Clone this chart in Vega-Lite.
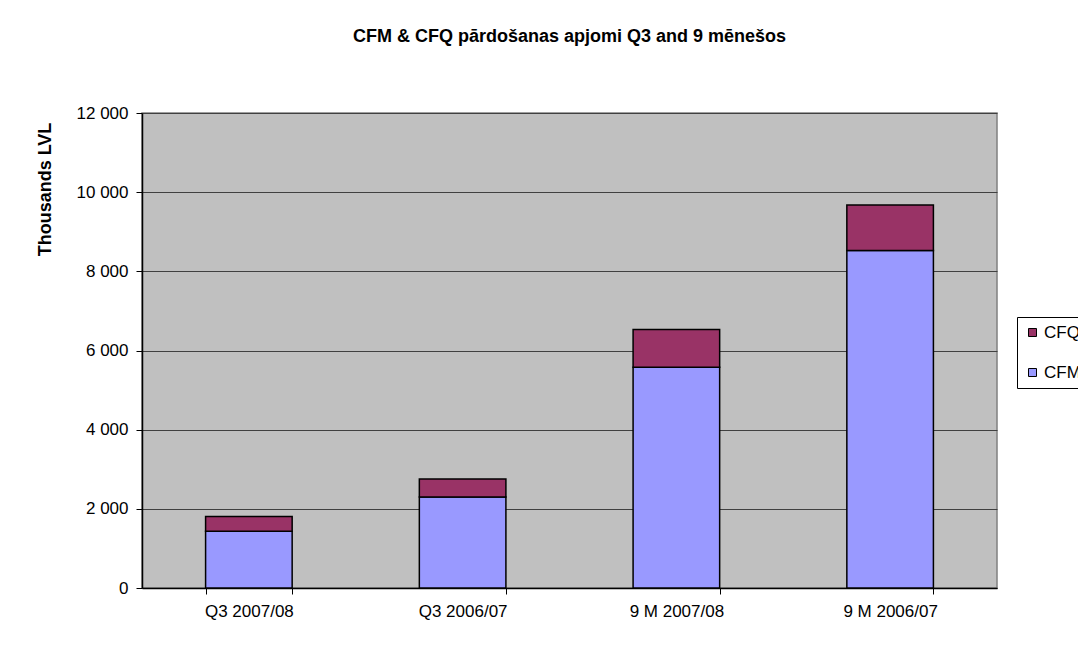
{
  "$schema": "https://vega.github.io/schema/vega-lite/v6.json",
  "width": 855,
  "height": 475,
  "autosize": "none",
  "padding": {"left": 142, "top": 113, "right": 81, "bottom": 58},
  "background": "white",
  "title": {
    "text": "CFM & CFQ pārdošanas apjomi Q3 and 9 mēnešos",
    "font": "Liberation Sans",
    "fontSize": 18,
    "fontWeight": "bold",
    "color": "black",
    "anchor": "middle",
    "offset": 58
  },
  "data": {
    "values": [
      {"period": "Q3 2007/08", "series": "CFM", "value": 1436},
      {"period": "Q3 2007/08", "series": "CFQ", "value": 372},
      {"period": "Q3 2006/07", "series": "CFM", "value": 2296},
      {"period": "Q3 2006/07", "series": "CFQ", "value": 456},
      {"period": "9 M 2007/08", "series": "CFM", "value": 5577},
      {"period": "9 M 2007/08", "series": "CFQ", "value": 953},
      {"period": "9 M 2006/07", "series": "CFM", "value": 8528},
      {"period": "9 M 2006/07", "series": "CFQ", "value": 1146}
    ]
  },
  "mark": {"type": "bar", "stroke": "black", "strokeWidth": 1.5},
  "encoding": {
    "x": {
      "field": "period",
      "type": "nominal",
      "sort": ["Q3 2007/08", "Q3 2006/07", "9 M 2007/08", "9 M 2006/07"],
      "scale": {"paddingInner": 0.595, "paddingOuter": 0.2975},
      "axis": {
        "title": null,
        "labelAngle": 0,
        "labelFont": "Liberation Sans",
        "labelFontSize": 17,
        "labelColor": "black",
        "labelPadding": 9,
        "tickBand": "extent",
        "tickSize": 6,
        "tickColor": "black",
        "domainColor": "black",
        "domainWidth": 1.5
      }
    },
    "y": {
      "field": "value",
      "type": "quantitative",
      "stack": "zero",
      "scale": {"domain": [0, 12000], "nice": false},
      "axis": {
        "values": [0, 2000, 4000, 6000, 8000, 10000, 12000],
        "labelExpr": "replace(format(datum.value, ','), ',', ' ')",
        "labelFont": "Liberation Sans",
        "labelFontSize": 17,
        "labelColor": "black",
        "labelPadding": 8,
        "tickSize": 6,
        "tickColor": "black",
        "domainColor": "black",
        "domainWidth": 1.5,
        "grid": true,
        "gridColor": "#404040",
        "gridWidth": 1,
        "title": "Thousands LVL",
        "titleFont": "Liberation Sans",
        "titleFontSize": 18,
        "titleFontWeight": "bold",
        "titleColor": "black",
        "titleAngle": -90,
        "titleAlign": "center",
        "titleBaseline": "alphabetic",
        "titleX": -92,
        "titleY": 76
      }
    },
    "color": {
      "field": "series",
      "type": "nominal",
      "scale": {"domain": ["CFQ", "CFM"], "range": ["#993366", "#9999FF"]},
      "legend": {
        "title": null,
        "orient": "none",
        "legendX": 875,
        "legendY": 204,
        "strokeColor": "black",
        "fillColor": "white",
        "padding": 7,
        "rowPadding": 22,
        "symbolType": "square",
        "symbolSize": 64,
        "symbolStrokeColor": "black",
        "symbolStrokeWidth": 1,
        "labelFont": "Liberation Sans",
        "labelFontSize": 17,
        "labelColor": "black",
        "labelOffset": 3
      }
    },
    "order": {"field": "series", "sort": "ascending"}
  },
  "config": {
    "view": {"stroke": "#808080", "strokeWidth": 1.5, "fill": "#C0C0C0"}
  }
}
